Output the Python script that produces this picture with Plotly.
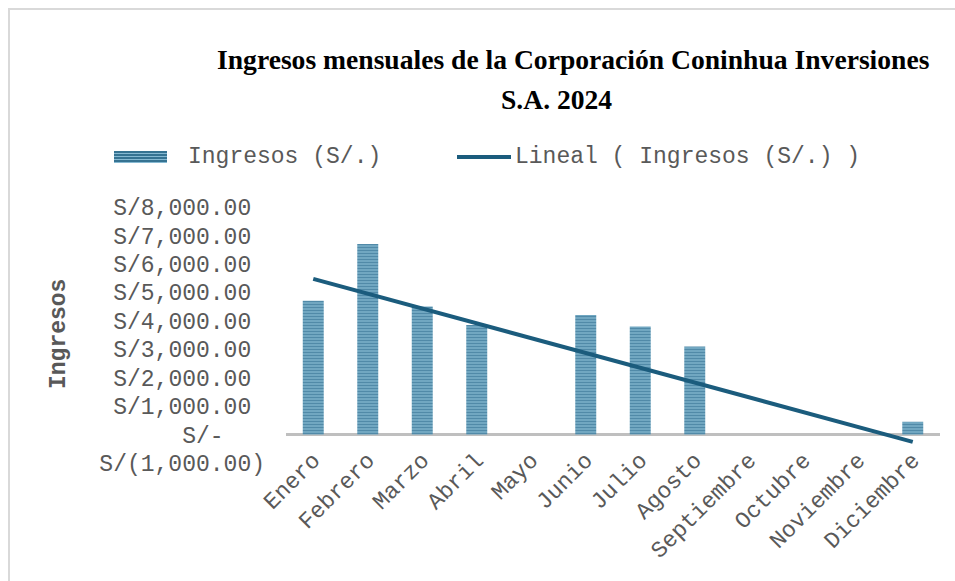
import numpy as np
import plotly.graph_objects as go

# ---- data ----
months = ["Enero", "Febrero", "Marzo", "Abril", "Mayo", "Junio", "Julio",
          "Agosto", "Septiembre", "Octubre", "Noviembre", "Diciembre"]
ingresos = [4700, 6700, 4500, 3850, 0, 4200, 3800, 3100, 0, 0, 0, 450]
tick_vals = [-1000, 0, 1000, 2000, 3000, 4000, 5000, 6000, 7000, 8000]
NB = "\u00a0"
tick_text = ["S/(1,000.00)", "S/-" + NB * 3] + [f"S/{v:,.2f}" + NB for v in tick_vals[2:]]

title_line1 = "Ingresos mensuales de la Corporación Coninhua Inversiones"
title_line2 = "S.A. 2024"
legend_bar = "Ingresos (S/.)"
legend_line = "Lineal ( Ingresos (S/.) )"
y_title = "Ingresos"

# linear trend (Excel "Lineal")
idx = np.arange(1, len(ingresos) + 1)
slope, intercept = np.polyfit(idx, ingresos, 1)
trend = slope * idx + intercept

DARK = "#1b5c7d"
LIGHT = "#86b9d2"
GRAY = "#595959"
MONO = "Courier New, Liberation Mono, monospace"
SERIF = "Times New Roman, Liberation Serif, serif"

W, H = 955, 581
PL, PR, PT, PB = 286, 940, 207, 463


def px(x):
    return (x - PL) / (PR - PL)


def py(y):
    return (PB - y) / (PB - PT)


fig = go.Figure()
fig.add_trace(go.Bar(
    x=months, y=ingresos, name=legend_bar, showlegend=False,
    marker=dict(color=LIGHT, line=dict(width=0),
                pattern=dict(shape="-", fgcolor=DARK, bgcolor=LIGHT,
                             size=3, solidity=0.6)),
))
fig.add_trace(go.Scatter(
    x=months, y=trend, mode="lines", name=legend_line, showlegend=False,
    line=dict(color=DARK, width=4),
))

shapes = []
# outer border of the chart box
shapes.append(dict(type="rect", xref="paper", yref="paper",
                   x0=px(9), x1=px(W + 20), y0=py(9), y1=py(H + 20),
                   line=dict(color="#d9d9d9", width=2), fillcolor="rgba(0,0,0,0)"))
# legend: bar swatch
shapes.append(dict(type="rect", xref="paper", yref="paper",
                   x0=px(114), x1=px(167), y0=py(151), y1=py(163),
                   line=dict(width=0), fillcolor=LIGHT))
for k in range(4):
    yy = 152 + k * 3
    shapes.append(dict(type="line", xref="paper", yref="paper",
                       x0=px(114), x1=px(167), y0=py(yy), y1=py(yy),
                       line=dict(color=DARK, width=1.7)))
# legend: line swatch
shapes.append(dict(type="line", xref="paper", yref="paper",
                   x0=px(457), x1=px(511), y0=py(157), y1=py(157),
                   line=dict(color=DARK, width=4)))

annotations = [
    dict(text=title_line1, xref="paper", yref="paper", x=px(573), y=py(59),
         showarrow=False, xanchor="center", yanchor="middle",
         font=dict(family=SERIF, size=27.6, color="black", weight="bold")),
    dict(text=title_line2, xref="paper", yref="paper", x=px(556), y=py(99),
         showarrow=False, xanchor="center", yanchor="middle",
         font=dict(family=SERIF, size=27.6, color="black", weight="bold")),
    dict(text=legend_bar, xref="paper", yref="paper", x=px(186), y=py(157),
         showarrow=False, xanchor="left", yanchor="middle",
         font=dict(family=MONO, size=23, color=GRAY)),
    dict(text=legend_line, xref="paper", yref="paper", x=px(513), y=py(157),
         showarrow=False, xanchor="left", yanchor="middle",
         font=dict(family=MONO, size=23, color=GRAY)),
    dict(text=y_title, xref="paper", yref="paper", x=px(59), y=py(334),
         showarrow=False, xanchor="center", yanchor="middle", textangle=-90,
         font=dict(family=MONO, size=23, color=GRAY, weight="bold")),
]

fig.update_layout(
    width=W, height=H,
    margin=dict(l=PL, r=W - PR, t=PT, b=H - PB),
    paper_bgcolor="white", plot_bgcolor="white",
    bargap=0.615,
    shapes=shapes, annotations=annotations,
    xaxis=dict(range=[-0.5, 11.5], tickangle=-45, showgrid=False,
               showline=False, zeroline=False, ticks="",
               ticklabelstandoff=-22,
               tickfont=dict(family=MONO, size=23, color=GRAY)),
    yaxis=dict(range=[-1000, 8000], tickvals=tick_vals, ticktext=tick_text,
               showgrid=False, showline=False, zeroline=True,
               zerolinecolor="#bfbfbf", zerolinewidth=3, ticks="",
               ticklabelstandoff=20,
               tickfont=dict(family=MONO, size=23, color=GRAY)),
)

fig.write_html("out.html", config={"displayModeBar": False},
               post_script="document.body.style.margin='0';")
